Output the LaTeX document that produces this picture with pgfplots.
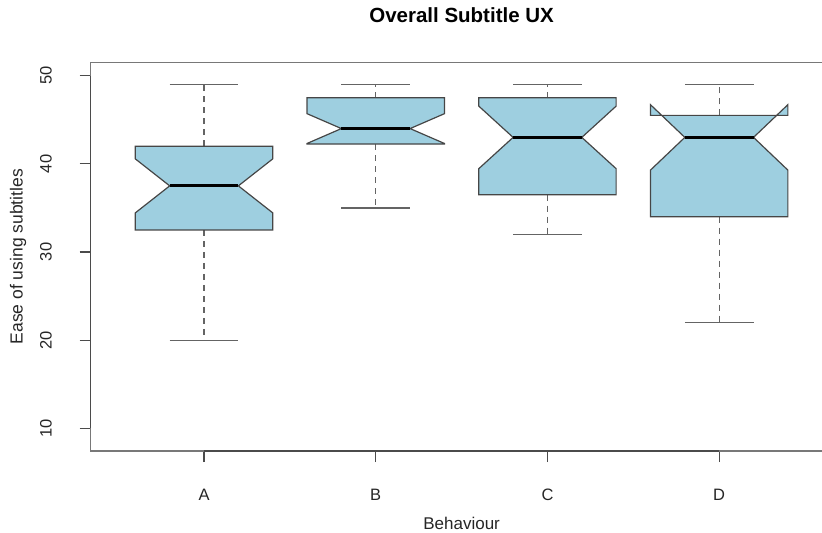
\documentclass[border=0pt]{standalone}
\usepackage{fontspec}
\setmainfont{Liberation Sans}
\usepackage{pgfplots}
\pgfplotsset{compat=1.18}
\definecolor{boxfill}{RGB}{158,207,224}
\definecolor{boxedge}{RGB}{70,70,70}
\definecolor{whisk}{RGB}{100,100,100}
\definecolor{framec}{RGB}{120,120,120}
\definecolor{axisc}{RGB}{75,75,75}
\begin{document}
\begin{tikzpicture}
\useasboundingbox (0,0) rectangle (822bp,533bp);
\begin{axis}[
  at={(90.7bp,82bp)}, anchor=south west,
  scale only axis, width=741.8bp, height=388.7bp,
  xmin=0.34, xmax=4.66, ymin=7.42, ymax=51.52,
  xtick={1,2,3,4}, xticklabels={A,B,C,D},
  ytick={10,20,30,40,50},
  tick align=outside, major tick length=11bp,
  xtick pos=bottom, ytick pos=left,
  tick style={axisc, line width=1.1bp},
  axis line style={framec, line width=1.2bp},
  clip=false,
  /pgf/number format/assume math mode=true,
  ticklabel style={font=\fontsize{16.5bp}{19bp}\selectfont, text=black!85},
  yticklabel style={rotate=90, anchor=center},
  xticklabel style={anchor=center},
  yticklabel shift=33.7bp,
  xticklabel shift=33bp,
  title={Overall Subtitle UX},
  title style={at={(axis description cs:0.5,1.107)}, anchor=center,
    font=\bfseries\fontsize{20.5bp}{23bp}\selectfont},
  xlabel={Behaviour},
  xlabel style={at={(axis description cs:0.5,-0.187)}, anchor=center,
    font=\fontsize{17bp}{19bp}\selectfont, text=black!85},
  ylabel={Ease of using subtitles},
  ylabel style={at={(axis description cs:-0.098,0.5)}, anchor=center,
    font=\fontsize{17.5bp}{19bp}\selectfont, text=black!85},
]
% R axis lines (darker, from first to last tick)
\addplot[axisc, line width=1.2bp] coordinates {(0.34,10) (0.34,50)};
\addplot[axisc, line width=1.2bp] coordinates {(1,7.42) (4,7.42)};

% ---- whiskers (dashed) ----
\pgfplotsset{whiskline/.style={whisk, line width=1.2bp, dash pattern=on 6bp off 5bp}}
\pgfplotsset{capline/.style={whisk, line width=1.2bp}}
% A
\addplot[whiskline] coordinates {(1,42) (1,49)};
\addplot[whiskline] coordinates {(1,32.5) (1,20)};
\addplot[capline] coordinates {(0.8,49) (1.2,49)};
\addplot[capline] coordinates {(0.8,20) (1.2,20)};
% B
\addplot[whiskline] coordinates {(2,47.5) (2,49)};
\addplot[whiskline] coordinates {(2,42.25) (2,35)};
\addplot[capline] coordinates {(1.8,49) (2.2,49)};
\addplot[capline] coordinates {(1.8,35) (2.2,35)};
% C
\addplot[whiskline] coordinates {(3,47.5) (3,49)};
\addplot[whiskline] coordinates {(3,36.5) (3,32)};
\addplot[capline] coordinates {(2.8,49) (3.2,49)};
\addplot[capline] coordinates {(2.8,32) (3.2,32)};
% D
\addplot[whiskline] coordinates {(4,45.5) (4,49)};
\addplot[whiskline] coordinates {(4,34) (4,22)};
\addplot[capline] coordinates {(3.8,49) (4.2,49)};
\addplot[capline] coordinates {(3.8,22) (4.2,22)};

% ---- notched boxes ----
\pgfplotsset{nbox/.style={fill=boxfill, draw=boxedge, line width=1.2bp, line join=miter}}
% A: Q1 32.5, notch 34.44, med 37.5, notch 40.56, Q3 42
\addplot[nbox] coordinates {(0.6,32.5) (0.6,34.44) (0.8,37.5) (0.6,40.56) (0.6,42)
  (1.4,42) (1.4,40.56) (1.2,37.5) (1.4,34.44) (1.4,32.5)} --cycle;
% B: Q1 42.25, notch 42.31, med 44, notch 45.69, Q3 47.5
\addplot[nbox] coordinates {(1.6,42.25) (1.6,42.31) (1.8,44) (1.6,45.69) (1.6,47.5)
  (2.4,47.5) (2.4,45.69) (2.2,44) (2.4,42.31) (2.4,42.25)} --cycle;
% C: Q1 36.5, notch 39.45, med 43, notch 46.55, Q3 47.5
\addplot[nbox] coordinates {(2.6,36.5) (2.6,39.45) (2.8,43) (2.6,46.55) (2.6,47.5)
  (3.4,47.5) (3.4,46.55) (3.2,43) (3.4,39.45) (3.4,36.5)} --cycle;
% D: Q1 34, notch 39.29, med 43, notch 46.71, Q3 45.5
\addplot[nbox] coordinates {(3.6,34) (3.6,39.29) (3.8,43) (3.6,46.71) (3.6,45.5)
  (4.4,45.5) (4.4,46.71) (4.2,43) (4.4,39.29) (4.4,34)} --cycle;

% ---- medians ----
\pgfplotsset{medline/.style={black, line width=3.2bp}}
\addplot[medline] coordinates {(0.8,37.5) (1.2,37.5)};
\addplot[medline] coordinates {(1.8,44) (2.2,44)};
\addplot[medline] coordinates {(2.8,43) (3.2,43)};
\addplot[medline] coordinates {(3.8,43) (4.2,43)};
\end{axis}
\end{tikzpicture}
\end{document}
